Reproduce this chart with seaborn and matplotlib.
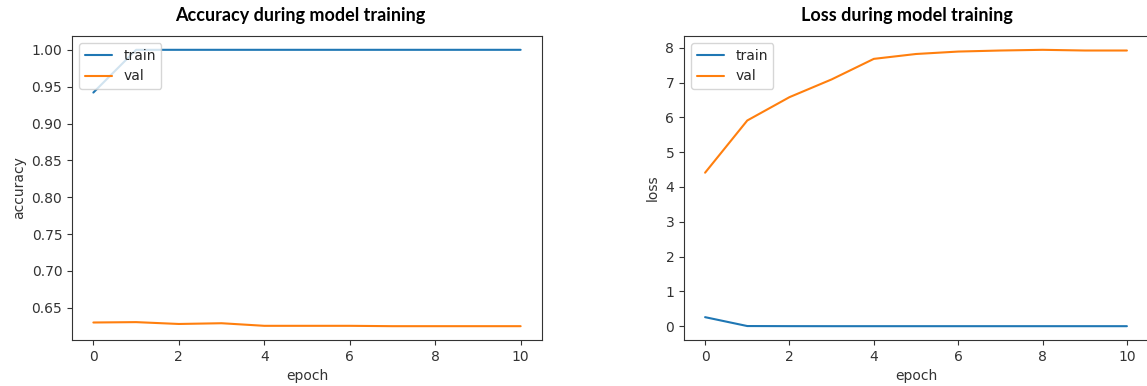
import numpy as np
import pandas as pd
import seaborn as sns
import matplotlib.pyplot as plt

# values
epochs = list(range(11))
train_acc = [0.942, 1.0, 1.0, 1.0, 1.0, 1.0, 1.0, 1.0, 1.0, 1.0, 1.0]
val_acc = [0.630, 0.6305, 0.628, 0.629, 0.6255, 0.6255, 0.6255, 0.625, 0.625, 0.625, 0.625]
train_loss = [0.26, 0.005, 0.002, 0.001, 0.001, 0.001, 0.001, 0.001, 0.001, 0.001, 0.001]
val_loss = [4.41, 5.91, 6.58, 7.09, 7.68, 7.82, 7.89, 7.92, 7.94, 7.92, 7.92]

sns.set_style("ticks")
plt.rcParams['font.family'] = ['DejaVu Sans']
plt.rcParams['font.size'] = 10

fig = plt.figure(figsize=(11.47, 3.86), dpi=100)
W, H = 1147, 386

# axes placed in pixel coordinates of the reference
ax1 = fig.add_axes([72 / W, 1 - 340 / H, 470 / W, 304 / H])
ax2 = fig.add_axes([684 / W, 1 - 340 / H, 464 / W, 304 / H])

blue = '#1f77b4'
orange = '#ff7f0e'

# Accuracy
sns.lineplot(x=epochs, y=train_acc, ax=ax1, color=blue, label='train')
sns.lineplot(x=epochs, y=val_acc, ax=ax1, color=orange, label='val')
ax1.set_xlabel('epoch')
ax1.set_ylabel('accuracy')
ax1.set_xticks([0, 2, 4, 6, 8, 10])
ax1.set_yticks([0.65, 0.70, 0.75, 0.80, 0.85, 0.90, 0.95, 1.00])
ax1.legend(loc='upper left')

# Loss
sns.lineplot(x=epochs, y=train_loss, ax=ax2, color=blue, label='train')
sns.lineplot(x=epochs, y=val_loss, ax=ax2, color=orange, label='val')
ax2.set_xlabel('epoch')
ax2.set_ylabel('loss')
ax2.set_xticks([0, 2, 4, 6, 8, 10])
ax2.set_yticks(range(9))
ax2.legend(loc='upper left')

for ax in (ax1, ax2):
    for sp in ax.spines.values():
        sp.set_color('#333333')
    ax.tick_params(colors='#333333', labelcolor='#333333')
    ax.xaxis.label.set_color('#333333')
    ax.yaxis.label.set_color('#333333')

fig.text(300 / W, 1 - 16 / H, 'Accuracy during model training', ha='center', va='center',
         fontsize=13, fontweight='bold', color='black', family=['Lato', 'DejaVu Sans'])
fig.text(907 / W, 1 - 16 / H, 'Loss during model training', ha='center', va='center',
         fontsize=13, fontweight='bold', color='black', family=['Lato', 'DejaVu Sans'])

fig.savefig('out.png', dpi=100)
